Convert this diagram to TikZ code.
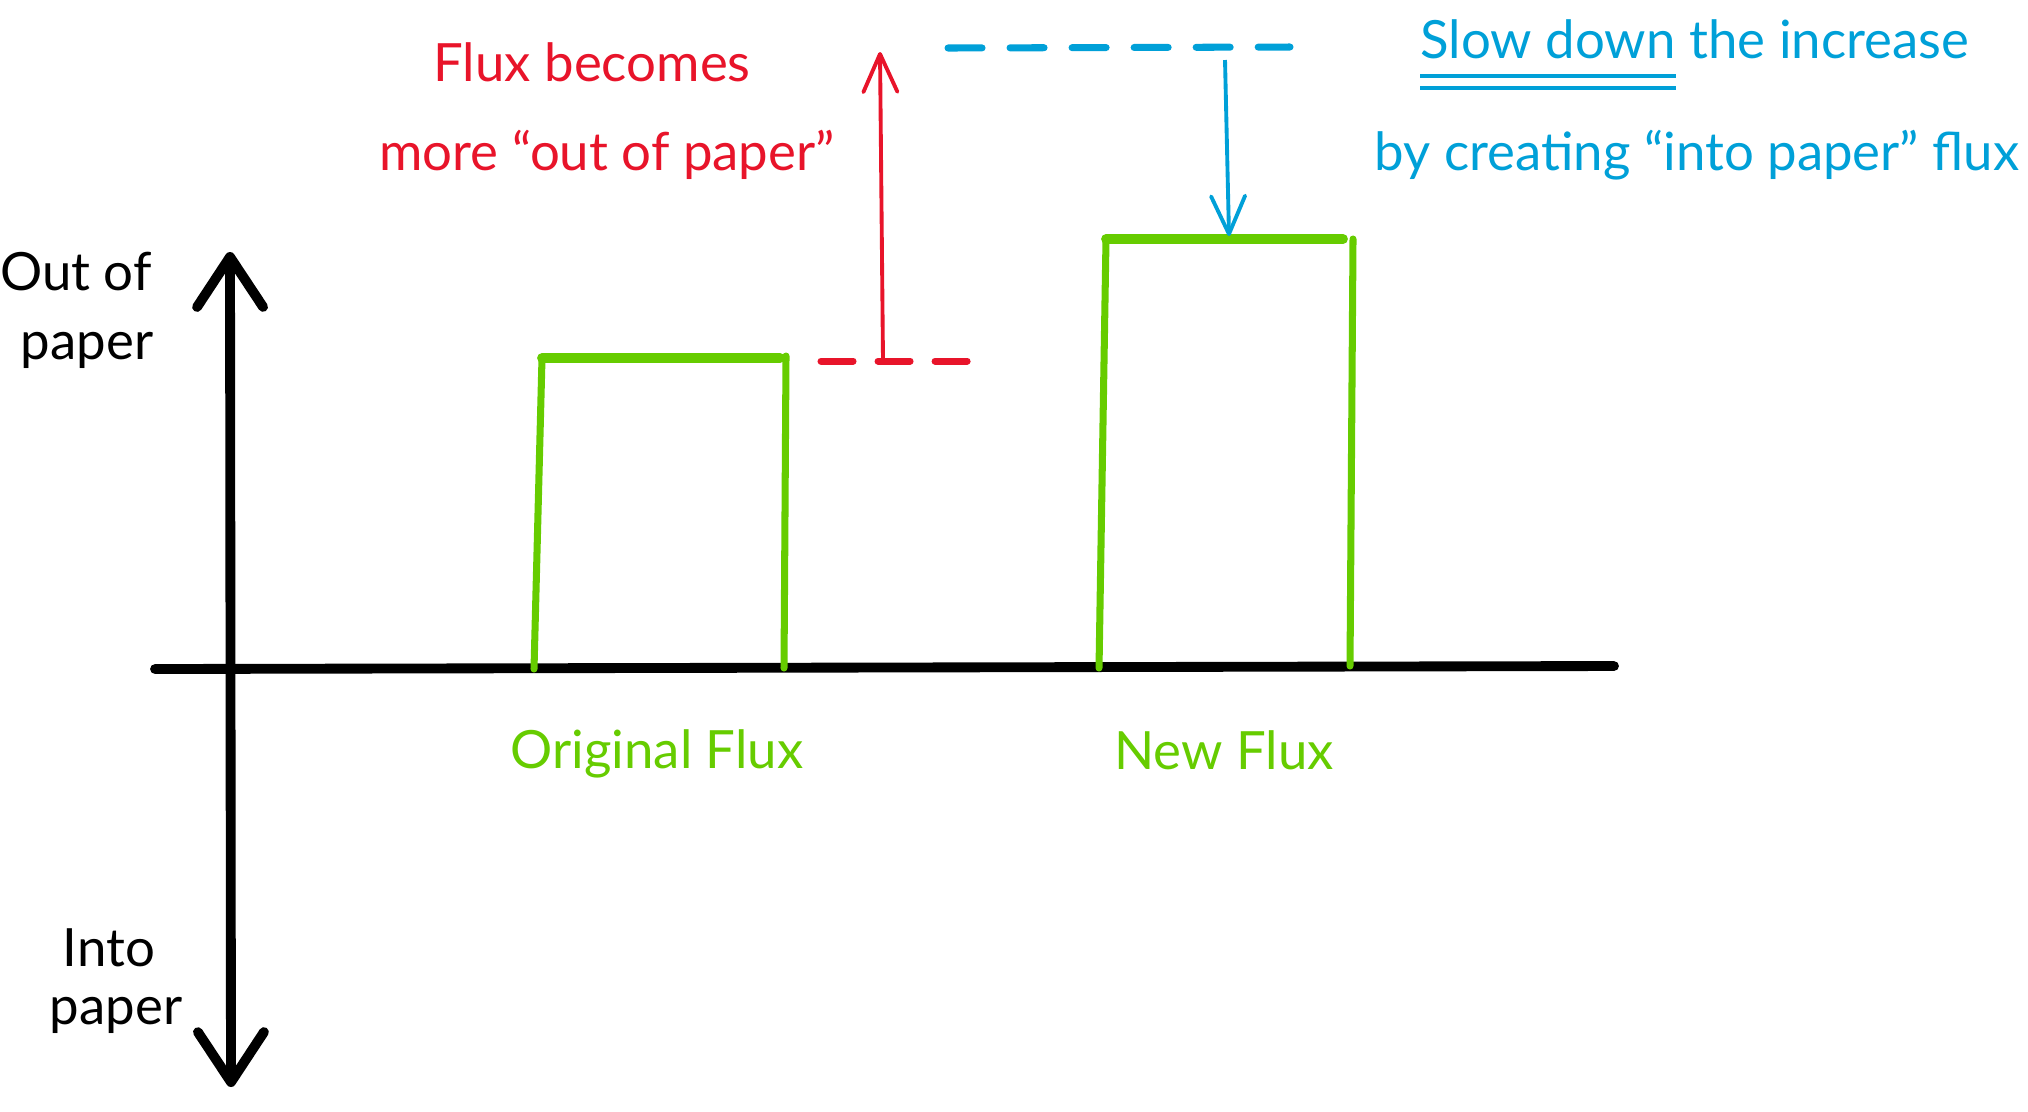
\documentclass[tikz,border=0pt]{standalone}
\usepackage{fontspec}
\setmainfont{Lato}
\usepackage{tikz}
\usetikzlibrary{arrows.meta}

\definecolor{fluxgreen}{HTML}{66CC00}
\definecolor{penred}{HTML}{E8142A}
\definecolor{penblue}{HTML}{00A0D8}

\begin{document}
\begin{tikzpicture}[x=0.01cm,y=-0.01cm,
    every node/.style={font=\fontsize{15}{18}\selectfont},
    axis/.style={line width=2.8pt,line cap=round,
      {Straight Barb[round,length=0.5cm,width=0.66cm]}-{Straight Barb[round,length=0.5cm,width=0.66cm]}},
    bar/.style={fluxgreen,line width=2pt,line cap=round},
    lid/.style={fluxgreen,line width=2.8pt,line cap=round},
    level/.style={line width=2pt,line cap=round},
    pen/.style={line width=1.1pt,-{Straight Barb[round,length=0.38cm,width=0.34cm]}}]
\useasboundingbox (0,0) rectangle (2028,1111);

    % axes
    \coordinate (up) at (230,252);
    \coordinate (down) at (231,1087);
    \coordinate (left) at (155,669);
    \coordinate (right) at (1614,666);
    \draw[axis] (down) -- (up);
    \draw[line width=2.8pt,line cap=round] (left) -- (right);

    \node (out1) at (76,272) {Out of};
    \node (out2) at (87,350) {paper};
    \node (in1) at (109,948) {Into};
    \node (in2) at (116,1015) {paper};

    % the two fluxes
    \coordinate (a1) at (534,669);
    \coordinate (a2) at (542,358);
    \coordinate (a3) at (780,358);
    \coordinate (a4) at (786,356);
    \coordinate (a5) at (784,668);
    \coordinate (b1) at (1099,668);
    \coordinate (b2) at (1106,239);
    \coordinate (b3) at (1343,239);
    \coordinate (b4) at (1353,239);
    \coordinate (b5) at (1350,666);
    \draw[bar] (a1) -- (a2);
    \draw[lid] (a2) -- (a3);
    \draw[bar] (a4) -- (a5);
    \draw[bar] (b1) -- (b2);
    \draw[lid] (b2) -- (b3);
    \draw[bar] (b4) -- (b5);

    \node[fluxgreen] (orig) at (657,754) {Original Flux};
    \node[fluxgreen] (new) at (1224,750) {New Flux};

    % levels
    \coordinate (r1) at (821,361);
    \coordinate (r2) at (970,361);
    \coordinate (rbot) at (883,361);
    \coordinate (rtop) at (880,52);
    \draw[level,penred,dash pattern=on 0.32cm off 0.25cm] (r1) -- (r2);
    \coordinate (s1) at (948,48);
    \coordinate (s2) at (1290,47);
    \coordinate (stop) at (1225,60);
    \coordinate (sbot) at (1229,236);
    \draw[level,penblue,dash pattern=on 0.34cm off 0.28cm] (s1) -- (s2);

    % draw the arrows
    \draw[pen,penred] (rbot) -- (rtop);
    \draw[pen,penblue] (stop) -- (sbot);

    \node[penred] (becomes) at (592,62) {Flux becomes};
    \node[penred] (more) at (607,155) {more “out of paper”};
    \node[penblue,anchor=west,inner xsep=0pt] (slow) at (1420,39) {Slow down};
    \node[penblue,anchor=base west,inner xsep=0pt] (incr) at ([xshift=0.35em]slow.base east) {the increase};
    \node[penblue] (creating) at (1697,155) {by creating “into paper” flux};

    \draw[penblue,line width=1.3pt] ([yshift=-5pt]slow.base west) -- ([yshift=-5pt]slow.base east);
    \draw[penblue,line width=1.3pt] ([yshift=-8.5pt]slow.base west) -- ([yshift=-8.5pt]slow.base east);

\end{tikzpicture}
\end{document}
